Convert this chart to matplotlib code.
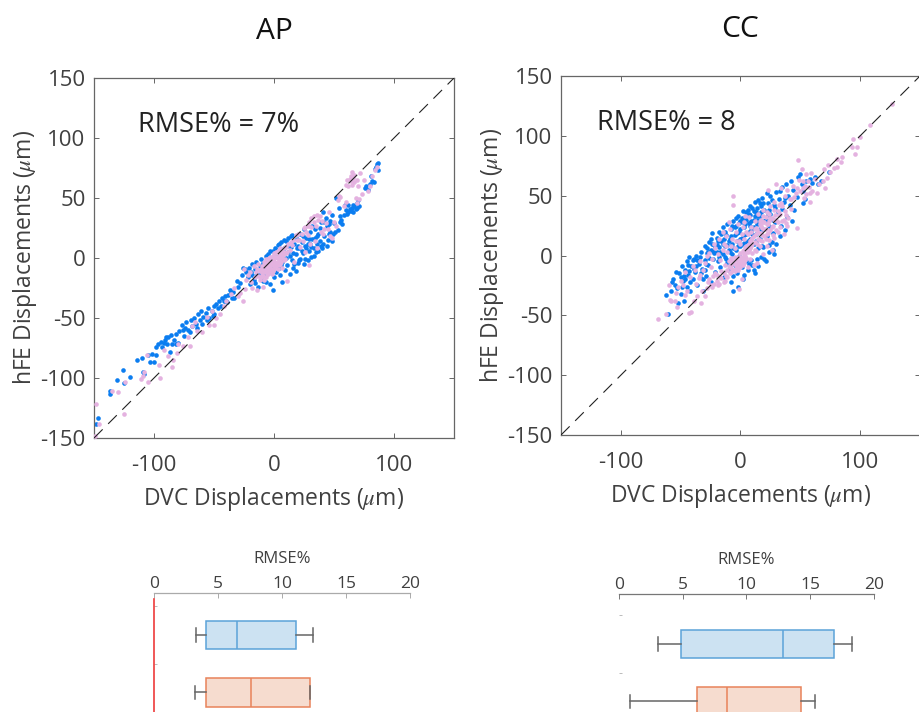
import numpy as np
from matplotlib import pyplot as plt

plt.rcParams['font.family'] = ['Open Sans', 'DejaVu Sans']
plt.rcParams['mathtext.fontset'] = 'stix'
plt.rcParams['axes.unicode_minus'] = False

#values, (DVC, hFE)
ap_blue = [(-148,-138),(-147,-133),(-137,-111),(-137,-113),(-131,-102),(-126,-93),(-125,-104),(-120,-99),
    (-109,-95),(-108,-97),(-114,-85),(-110,-83),(-105,-81),(-102,-80),(-103,-87),(-100,-87),(-98,-81),(-98,-74),
    (-97,-72),(-94,-70),(-92,-71),(-90,-66),(-88,-66),(-91,-68),(-87,-78),(-85,-72),(-82,-72),(-80,-71),(-82,-63),
    (-79,-61),(-76,-60),(-74,-58),(-73,-53),(-75,-65),(-70,-62),(-68,-57),(-65,-55),(-67,-50),(-63,-47),(-62,-52),
    (-60,-55),(-59,-49),(-57,-46),(-56,-52),(-54,-50),(-52,-44),(-50,-40),(-50,-47),(-48,-38),(-46,-36),(-44,-40),
    (-43,-33),(-41,-32),(-40,-36),(-38,-31),(-39,-37),(-36,-29),(-34,-28),(-33,-33),(-30,-24),(-28,-21),(-26,-8),
    (-24,-9),(-22,-16),(-21,-8),(-20,-22),(-19,-12),(-18,-5),(-17,-18),(-16,-9),(-15,-3),(-14,-14),(-13,-24),
    (-12,-7),(-11,-1),(-10,-18),(-10,-10),(-9,-4),(-8,-14),(-7,2),(-7,-20),(-6,-8),(-5,3),(-5,-12),(-4,-2),(-3,-22),
    (-3,6),(-2,-9),(-1,-27),(0,2),(0,-16),(1,8),(1,-5),(2,-12),(3,11),(3,1),(4,-8),(5,5),(5,-14),(6,13),(7,-3),(7,-20),
    (8,8),(9,-10),(10,14),(10,0),(11,-6),(12,17),(12,5),(13,-13),(14,9),(15,-2),(15,19),(16,-8),(17,12),(18,3),
    (18,-11),(19,16),(20,-4),(21,8),(22,20),(22,-1),(23,13),(24,4),(25,-5),(25,24),(26,10),(27,17),(28,-2),(29,6),
    (30,22),(30,12),(31,1),(32,27),(33,8),(34,17),(35,5),(36,12),(37,20),(38,25),(39,10),(40,8),(41,38),(42,18),(43,33),
    (44,27),(45,15),(46,28),(47,22),(48,36),(49,20),(50,29),(52,50),(53,23),(54,42),(55,30),(56,32),(57,28),(60,40),
    (61,37),(62,44),(63,41),(64,39),(65,42),(66,38),(67,43),(68,41),(69,46),(70,48),(71,43),(76,58),(77,60),(78,57),
    (80,62),(81,68),(82,64),(83,63),(84,74),(85,76),(86,78),(87,73),(87,79),
    (-93,-74),(-89,-72),(-86,-64),(-83,-68),(-77,-56),(-72,-60),(-69,-52),(-64,-58),(-61,-44),(-55,-42),(-51,-48),
    (-47,-42),(-42,-36),(-37,-27),(-35,-33),(-31,-19),(-27,-14),(-23,-12),(-18,-14),(-16,-21),(-12,-13),(-9,-19),
    (-6,-2),(-3,-6),(-1,6),(2,7),(4,12),(6,-6),(8,15),(11,10),(13,2),(14,18),(16,4),(17,-5),(19,8),(20,10),(21,-2),
    (23,6),(24,18),(26,-1),(27,8),(28,12),(29,16),(31,9),(32,16),(33,2),(34,24),(36,18),(37,6),(38,14),(39,30),(41,12),
    (42,30),(44,10),(46,20),(47,31),(48,14),(51,22),(55,35),(58,36),(59,44),(62,38),(66,44),(69,42)]

ap_pink = [(-149,-148),(-148,-122),(-146,-138),(-135,-111),(-130,-112),(-125,-130),(-124,-103),(-111,-101),
    (-108,-95),(-109,-98),(-105,-103),(-106,-81),(-95,-100),(-96,-89),(-92,-77),(-88,-82),(-85,-91),(-84,-85),
    (-81,-79),(-80,-72),(-76,-73),(-72,-66),(-70,-73),(-68,-57),(-66,-53),(-64,-61),(-60,-62),(-56,-49),(-54,-56),
    (-52,-44),(-50,-56),(-48,-50),(-45,-47),(-42,-40),(-40,-36),(-36,-30),(-33,-25),(-30,-32),(-28,-29),(-26,-36),
    (-24,-26),(-25,-9),(-23,-18),(-22,-14),(-20,-12),(-19,-20),(-18,-25),(-17,-7),(-16,-16),(-15,-12),(-14,-27),
    (-13,-5),(-12,-18),(-11,-9),(-10,-14),(-9,-24),(-8,-6),(-8,-12),(-7,-1),(-7,-16),(-6,-9),(-5,-3),(-5,-13),(-4,-7),
    (-4,0),(-3,-10),(-3,-4),(-2,-1),(-2,-13),(-1,-6),(-1,2),(0,-9),(0,-3),(0,4),(1,-7),(1,1),(2,-4),(2,5),(3,-9),(3,0),
    (4,-2),(4,7),(5,-5),(5,3),(6,0),(7,6),(7,-8),(8,3),(9,9),(9,-1),(10,4),(11,-19),(12,12),(13,7),(15,11),(17,-3),
    (19,15),(20,20),(22,9),(24,14),(25,25),(26,5),(27,22),(28,19),(29,-6),(30,12),(29,30),(31,33),(33,30),(34,14),
    (35,27),(36,8),(37,32),(38,35),(39,22),(41,20),(43,29),(45,24),(46,38),(48,17),(50,30),(47,18),(52,27),(53,48),
    (54,52),(55,51),(58,43),(60,47),(62,60),(63,66),(64,64),(65,61),(65,72),(66,67),(67,63),(68,50),(69,46),(70,60),
    (71,49),(72,71),(73,53),(75,65),(78,56),(80,60),(82,68),(84,73),(86,76),
    (-14,-9),(-13,-15),(-12,-11),(-11,-16),(-10,-7),(-10,-12),(-9,-9),(-9,-15),(-8,-3),(-8,-18),(-7,-7),(-7,-11),(-6,-4),
    (-6,-13),(-5,-8),(-5,-1),(-4,-11),(-4,-4),(-3,-7),(-3,1),(-2,-9),(-2,-4),(-1,-11),(-1,-2),(0,-6),(0,0),(1,-3),(1,4),
    (2,-7),(2,1),(3,-4),(3,6),(4,-6),(4,2),(5,0),(5,8),(6,-3),(6,5),(7,2),(8,-2),(8,8),(9,4),(10,9),(11,5),(14,13),(16,15),
    (18,19),(21,15),(23,20),(26,26),(28,27),(31,26),(33,35),(36,36),(40,31),(42,24),(60,61),(61,65),(64,68),(67,69),(69,65)]

cc_blue = [(-62,-33),(-61,-49),(-57,-22),(-56,-20),(-54,-14),(-53,-27),(-52,-40),(-50,-32),(-50,-18),(-49,-9),
    (-48,-21),(-47,-38),(-46,-12),(-45,-5),(-45,-26),(-44,-16),(-43,-1),(-42,-30),(-41,-9),(-40,-20),(-39,-3),
    (-38,-14),(-37,0),(-36,-25),(-35,-7),(-34,-18),(-33,3),(-32,-11),(-31,-30),(-30,-4),(-30,8),(-29,-17),(-28,2),
    (-27,-8),(-26,11),(-25,-22),(-25,5),(-24,19),(-23,-3),(-22,9),(-21,-14),(-20,15),(-20,3),(-19,-5),(-18,20),
    (-18,7),(-17,-10),(-16,12),(-15,1),(-15,24),(-14,-18),(-13,8),(-12,17),(-12,-3),(-11,26),(-10,5),(-10,-12),
    (-9,14),(-8,-22),(-8,22),(-7,1),(-7,10),(-6,-30),(-6,29),(-5,-8),(-5,17),(-4,5),(-4,25),(-3,-15),(-3,12),(-2,33),
    (-2,-26),(-1,0),(-1,20),(0,8),(0,29),(1,-10),(1,15),(2,37),(2,-20),(3,4),(3,24),(4,11),(4,32),(5,-5),(5,18),(6,38),
    (6,-12),(7,27),(7,6),(8,14),(8,34),(9,-4),(9,21),(10,40),(10,-8),(11,30),(11,10),(12,-15),(12,45),(13,18),(13,36),
    (14,-3),(14,26),(15,46),(15,6),(16,14),(16,33),(17,41),(17,-1),(18,22),(18,48),(19,7),(20,29),(20,38),(21,-5),(22,16),
    (22,52),(23,44),(24,25),(24,3),(25,35),(25,50),(26,11),(27,19),(28,42),(28,1),(29,28),(30,53),(30,10),(31,36),(32,47),
    (33,16),(34,25),(35,39),(35,57),(36,45),(37,21),(38,60),(39,32),(40,50),(41,42),(42,62),(43,29),(44,55),(45,38),(47,49),
    (48,66),(50,68),(51,60),(52,44),(52,54),(54,47),(55,62),(58,64),(60,61),(62,66),(65,60),(67,62),(74,70),
    (-55,-25),(-51,-15),(-47,-17),(-44,-8),(-42,-22),(-39,-11),(-36,-4),(-33,-15),(-30,-12),(-28,6),(-26,-2),(-24,10),
    (-23,4),(-21,7),(-19,12),(-17,3),(-16,18),(-14,14),(-13,-1),(-11,9),(-9,3),(-8,16),(-6,6),(-5,24),(-3,19),(-2,8),
    (0,14),(0,22),(1,31),(2,10),(3,17),(4,26),(5,30),(6,12),(7,20),(7,35),(8,25),(9,29),(10,18),(11,24),(12,33),(13,12),
    (14,40),(15,30),(16,22),(17,36),(18,8),(19,44),(21,30),(23,34),(24,38),(26,46),(27,30),(29,40),(33,54),(37,48),
    (-58,-30),(-49,-26),(-46,-20),(-43,-13),(-40,-4),(-37,-9),(-34,-1),(-31,-20),(-29,-7),(-27,3),(-25,14),(-22,2),(-20,9),
    (-18,-1),(-15,10),(-13,20),(-10,12),(-7,25),(-4,31),(-1,27),(2,28),(5,36),(8,41),(11,37),(14,33),(16,44),(-11,-6),(-6,-17),
    (-2,-10),(3,-16),(7,-7),(11,-12),(15,-9),(20,-3),(24,9),(27,5)]

cc_pink = [(-69,-53),(-62,-49),(-59,-37),(-60,-25),(-58,-38),(-55,-38),(-54,-31),(-53,-43),(-52,-26),(-50,-21),(-48,-25),
    (-46,-14),(-45,-30),(-43,-48),(-42,-18),(-41,-47),(-40,-9),(-39,-38),(-38,-12),(-37,-24),(-34,-5),(-33,-40),
    (-32,-30),(-30,-34),(-28,-27),(-28,0),(-26,-20),(-25,-10),(-24,-26),(-22,10),(-22,-24),(-21,-15),(-20,-21),(-19,1),
    (-18,-24),(-18,14),(-17,-18),(-16,-13),(-15,5),(-14,-22),(-13,-8),(-12,-17),(-12,16),(-11,-12),(-10,-5),(-9,-15),
    (-9,22),(-8,-8),(-8,-2),(-7,-11),(-6,-5),(-6,50),(-6,42),(-5,-13),(-5,-1),(-4,-8),(-4,12),(-3,-4),(-3,-10),(-2,-1),
    (-2,-7),(-2,26),(-1,-3),(-1,-28),(0,-6),(0,2),(1,-2),(1,18),(1,-20),(2,4),(2,-8),(3,1),(3,28),(4,7),(4,-4),(5,3),
    (5,20),(6,9),(6,-10),(7,5),(7,32),(8,12),(8,-3),(9,8),(9,24),(10,15),(10,2),(11,-8),(12,11),(12,29),(13,18),(13,4),
    (14,22),(14,-6),(15,14),(15,35),(16,26),(16,8),(17,19),(17,30),(18,12),(18,23),(19,38),(19,1),(20,28),(20,16),(21,22),
    (21,32),(22,8),(22,18),(23,26),(23,55),(24,13),(24,35),(25,21),(26,31),(26,5),(27,25),(28,38),(28,15),(30,30),(30,60),
    (31,20),(32,34),(32,42),(33,24),(34,56),(35,29),(36,18),(37,37),(38,27),(39,25),(40,31),(41,47),(42,39),(45,49),(46,52),
    (47,23),(48,80),(47,56),(50,54),(51,72),(52,62),(53,48),(54,58),(55,51),(55,68),(57,57),(58,45),(59,69),(60,54),(62,64),
    (64,52),(66,60),(69,62),(70,72),(71,56),(72,65),(73,76),(75,70),(78,73),(81,74),(81,81),(84,78),(85,82),(93,91),(94,97),
    (96,85),(97,91),(100,99),(108,109),(127,127),
    (-27,-22),(-25,-25),(-23,-17),(-20,-16),(-19,-25),(-16,-19),(-14,-15),(-13,-21),(-11,-18),(-10,-9),(-9,-10),(-8,-14),
    (-7,-5),(-6,-12),(-5,-7),(-4,-11),(-3,-7),(-2,-12),(-1,-8),(0,-1),(0,-10),(1,-5),(2,-1),(3,-6),(3,5),(4,0),(5,8),(5,-2),
    (6,3),(7,10),(8,6),(9,13),(10,10),(11,16),(12,5),(13,23),(14,10),(15,20),(16,13),(17,25),(18,17),(19,28),(20,22),(21,14),
    (22,26),(23,19),(24,29),(25,31),(26,24),(27,17),(28,30),(29,34),(30,21),(31,28),(33,35),(35,41),(36,30),(38,34),
    (-15,20),(-12,8),(-10,28),(-7,14),(-4,20),(-1,12),(2,24),(4,33),(-34,-16),(-30,-6),(-26,2),(-46,-33),(-36,-34),
    (-35,-19),(-31,-12),(-24,-3),(-21,6),(-17,-4),(-14,10),(-11,3),(-8,8),(-5,6),(0,10),(3,14),(6,18),(9,20),(12,22),(16,29),
    (19,33),(22,36),(25,41),(28,45),(31,37),(34,44),(37,50),(39,55),(42,47),(44,58),(49,63),(52,56),(56,62),(58,52)]

box_labels = ["AP", "CC"]
rmse_ap_hfe = dict(whislo=3.3, q1=4.05, med=6.5, q3=11.05, whishi=12.4)
rmse_ap_lin = dict(whislo=3.2, q1=4.05, med=7.55, q3=12.15, whishi=12.2)
rmse_cc_hfe = dict(whislo=3.03, q1=4.9, med=12.86, q3=16.9, whishi=18.25)
rmse_cc_lin = dict(whislo=0.86, q1=6.1, med=8.5, q3=14.3, whishi=15.37)
scatter_ticks = [-150, -100, -50, 0, 50, 100, 150]
scatter_xticks = [-100, 0, 100]
box_ticks = [0, 5, 10, 15, 20]

W, H = 920, 712
def px_axes(fig, left, top, right, bottom):
    return fig.add_axes([left/W, 1-bottom/H, (right-left)/W, (bottom-top)/H])

fig = plt.figure(figsize=(W/100, H/100), dpi=100)

#scatter panels
panels = [("AP", "RMSE% = 7%", ap_blue, ap_pink, (94, 78, 454, 438), 138),
          ("CC", "RMSE% = 8", cc_blue, cc_pink, (561, 76, 920, 435), 597)]
for title, note, blue, pink, box, note_x in panels:
    ax = px_axes(fig, *box)
    blue = np.array(blue)
    pink = np.array(pink)
    ax.scatter(blue[:, 0], blue[:, 1], s=11, color='#0b7df0', linewidths=0, zorder=2)
    ax.scatter(pink[:, 0], pink[:, 1], s=11, color='#e4b2e0', linewidths=0, zorder=3)
    ax.plot([-150, 150], [-150, 150], color='#222222', lw=0.8, dashes=(11, 7), zorder=4)
    ax.set_xlim(-150, 150)
    ax.set_ylim(-150, 150)
    ax.set_xticks(scatter_xticks)
    ax.set_yticks(scatter_ticks)
    ax.tick_params(direction='in', length=3.5, width=0.7, color='#666666', top=True, right=True,
                   labelsize=16, labelcolor='#404040')
    ax.tick_params(axis='x', pad=12)
    ax.tick_params(axis='y', pad=6)
    for s in ax.spines.values():
        s.set_color('#666666')
        s.set_linewidth(0.9)
    ax.set_xlabel(r"DVC Displacements ($\mu$m)", fontsize=16.5, color='#404040', labelpad=7)
    ax.set_ylabel(r"hFE Displacements ($\mu$m)", fontsize=16.5, color='#404040', labelpad=1)
    ax.set_title(title, fontsize=21.5, color='#111111', pad=28)
    ax.text((note_x-box[0])/(box[2]-box[0]), 0.87, note, transform=ax.transAxes, fontsize=19.5,
            color='#222222', ha='left', va='center')

#RMSE boxes, they run off the bottom of the picture
box_panels = [((154.3, 593, 410, 712), rmse_ap_hfe, rmse_ap_lin, 1, '#aaaaaa', True),
              ((619, 594, 874, 712), rmse_cc_hfe, rmse_cc_lin, 1.14, '#777777', False)]
for box, s1, s2, first, axcol, redline in box_panels:
    ax = px_axes(fig, *box)
    h = box[3]-box[1]
    y1 = first
    stats = [dict(s1, fliers=[]), dict(s2, fliers=[])]
    art = ax.bxp(stats, positions=[y1, y1+1], orientation='horizontal', widths=0.5, patch_artist=True,
                 showfliers=False, capwidths=0.23, manage_ticks=False,
                 whiskerprops=dict(color='#666666', lw=1.1), capprops=dict(color='#666666', lw=1.1))
    for b, m, fc, ec in zip(art['boxes'], art['medians'], ['#cce2f2', '#f6dccf'], ['#5ba3d9', '#e8835a']):
        b.set(facecolor=fc, edgecolor=ec, linewidth=1.1)
        m.set(color=ec, linewidth=1.1)
    ax.set_xlim(0, 20)
    ax.set_ylim(0.268+h/57.4, 0.268)
    ax.xaxis.tick_top()
    ax.xaxis.set_label_position('top')
    ax.set_xticks(box_ticks)
    ax.set_yticks([y1-0.5, y1+0.5])
    ax.set_yticklabels([])
    ax.tick_params(axis='x', direction='in', length=3.5, width=0.7, color=axcol, labelsize=12.5,
                   labelcolor='#404040', pad=1)
    ax.tick_params(axis='y', direction='in', length=2.5, width=0.7, color='#bbbbbb')
    ax.set_xlabel("RMSE%", fontsize=12, color='#404040', labelpad=9)
    for name in ['left', 'right', 'bottom']:
        ax.spines[name].set_visible(False)
    ax.spines['top'].set_color(axcol)
    ax.spines['top'].set_linewidth(0.9)
    if redline:
        ax.plot([0, 0], [0.38, 2.34], color='#ee3b3b', lw=1.2, clip_on=False, zorder=5)
    ax.patch.set_alpha(0)

fig.savefig("out.png", dpi=100)
